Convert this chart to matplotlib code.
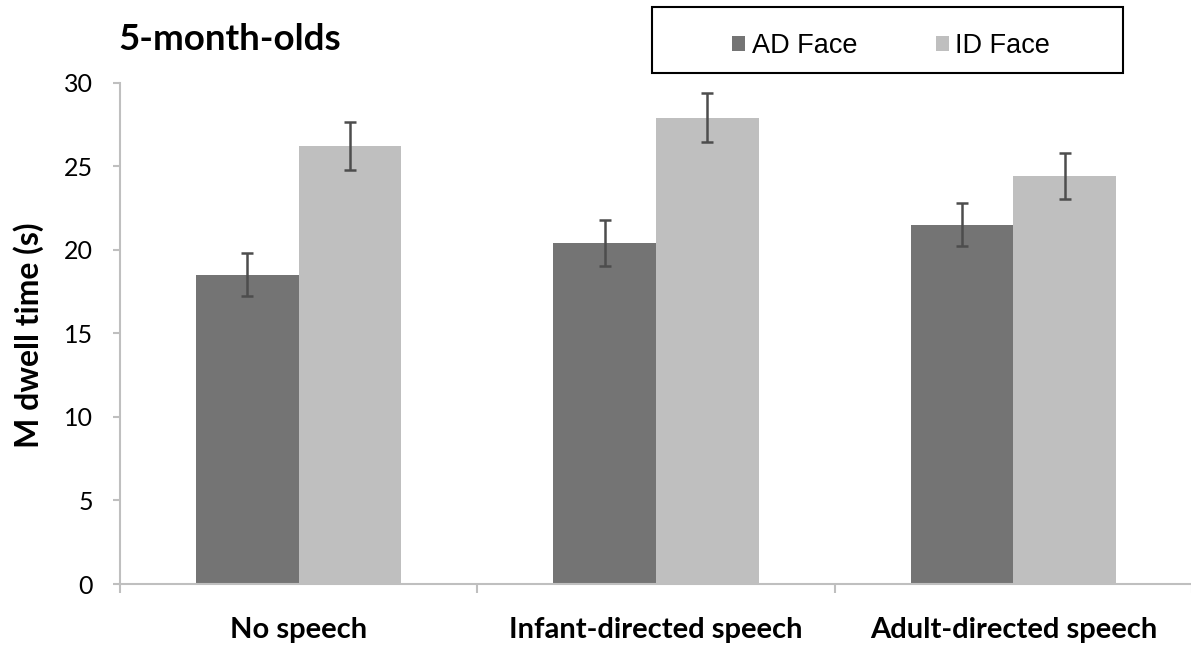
import matplotlib
matplotlib.use("Agg")
import matplotlib.pyplot as plt
from matplotlib.patches import Rectangle
from matplotlib.ticker import FixedLocator
from matplotlib.transforms import ScaledTranslation
import numpy as np

# Data
categories = ["No speech", "Infant-directed speech", "Adult-directed speech"]
series_names = ["AD Face", "ID Face"]
ad_face = [18.5, 20.4, 21.5]
ad_face_err = [1.3, 1.35, 1.27]
id_face = [26.2, 27.9, 24.4]
id_face_err = [1.45, 1.45, 1.37]
y_ticks = [0, 5, 10, 15, 20, 25, 30]

AD_COLOR = "#747474"
ID_COLOR = "#bfbfbf"
ERR_COLOR = "#4d4d4d"
AXIS_COLOR = "#bfbfbf"

W, H = 1191, 646
fig = plt.figure(figsize=(W / 100, H / 100), dpi=100)
ax = fig.add_axes([120 / W, 62 / H, (W - 119) / W, (584 - 82.5) / H])

x = np.arange(len(categories))
bw = 0.287
err_kw = dict(ecolor=ERR_COLOR, elinewidth=1.8, capsize=4.3, capthick=1.8)
ax.bar(x - bw / 2, ad_face, bw, yerr=ad_face_err, color=AD_COLOR,
       label=series_names[0], error_kw=err_kw, zorder=2)
ax.bar(x + bw / 2, id_face, bw, yerr=id_face_err, color=ID_COLOR,
       label=series_names[1], error_kw=err_kw, zorder=2)

ax.set_xlim(-0.5, len(categories) - 0.5)
ax.set_ylim(0, 30)
ax.set_yticks(y_ticks)
ax.set_yticklabels([str(v) for v in y_ticks], fontfamily="Lato", fontsize=18)
shift = ScaledTranslation(0, -3 / 100, fig.dpi_scale_trans)
for lab in ax.get_yticklabels():
    lab.set_transform(lab.get_transform() + shift)

# category separators as major ticks, category names on minor ticks
ax.xaxis.set_major_locator(FixedLocator(np.arange(-0.5, len(categories), 1.0)))
ax.xaxis.set_minor_locator(FixedLocator(x))
ax.set_xticklabels([], minor=False)
ax.set_xticklabels(categories, minor=True, fontfamily="Lato",
                   fontweight="bold", fontsize=21)
ax.tick_params(axis="x", which="major", length=6.5, width=1.5,
               color=AXIS_COLOR, direction="out")
ax.tick_params(axis="x", which="minor", length=0, pad=24)
ax.tick_params(axis="y", length=5.4, width=1.5, color=AXIS_COLOR,
               direction="out", pad=14)

for s in ("top", "right"):
    ax.spines[s].set_visible(False)
for s in ("left", "bottom"):
    ax.spines[s].set_color(AXIS_COLOR)
    ax.spines[s].set_linewidth(1.5)

# titles
fig.text(118 / W, 1 - 50 / H, "5-month-olds", fontfamily="Lato",
         fontweight="bold", fontsize=26.5, ha="left", va="baseline")
fig.text(28.5 / W, 1 - 335 / H, "M dwell time (s)", fontfamily="Lato",
         fontweight="bold", fontsize=23, rotation=90, ha="center", va="center")

# legend inside a plain rectangular frame
fig.patches.append(Rectangle((652 / W, 1 - 73 / H), (1123 - 652) / W, 66 / H,
                             transform=fig.transFigure, fill=False,
                             edgecolor="black", linewidth=1.5))
handles, labels = ax.get_legend_handles_labels()
fig.legend(handles, labels, loc="center", bbox_to_anchor=(891 / W, 1 - 46 / H),
           ncol=2, frameon=False,
           prop={"family": "Liberation Sans", "size": 19.5},
           handlelength=0.5, handleheight=0.5, handletextpad=0.23,
           columnspacing=2.9, borderpad=0)

fig.savefig("out.png", dpi=100)
